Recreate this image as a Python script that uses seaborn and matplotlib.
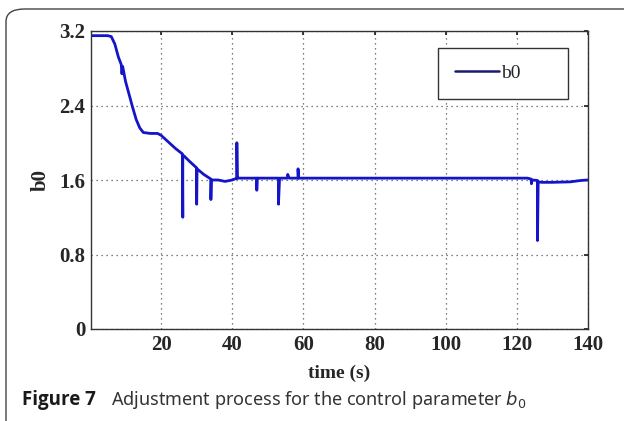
import numpy as np
import pandas as pd
import seaborn as sns
import matplotlib.pyplot as plt
from matplotlib.patches import FancyBboxPatch
from matplotlib.lines import Line2D

# ---- data ----
time_s = [0.3, 5.0, 6.0, 7.0, 8.0, 8.8, 9.0, 9.2, 10.0, 11.0, 12.0, 13.0, 14.0, 15.0,
          17.0, 19.0, 20.0, 22.0, 24.0, 26.0, 26.1, 26.1, 26.4, 26.4, 28.0,
          30.0, 30.0, 30.1, 32.0, 34.0, 34.0, 34.1, 36.0, 38.0, 40.0,
          41.3, 41.3, 41.4, 46.9, 46.9, 47.0, 53.0, 53.0, 53.3, 55.5, 55.6, 56.0,
          58.5, 58.5, 58.6, 80.0, 100.0, 123.0, 124.0, 124.1, 124.3, 125.8, 125.8, 126.0,
          127.0, 130.0, 135.0, 138.0, 140.0]
b0 = [3.15, 3.15, 3.14, 3.06, 2.92, 2.84, 2.74, 2.82, 2.66, 2.52, 2.38, 2.25, 2.16, 2.11,
      2.10, 2.10, 2.08, 2.01, 1.94, 1.88, 1.20, 1.86, 1.86, 1.86, 1.80,
      1.73, 1.34, 1.72, 1.66, 1.61, 1.39, 1.60, 1.60, 1.585, 1.60,
      1.62, 2.00, 1.62, 1.62, 1.49, 1.62, 1.62, 1.34, 1.62, 1.62, 1.66, 1.62,
      1.62, 1.72, 1.62, 1.62, 1.62, 1.62, 1.61, 1.56, 1.60, 1.595, 0.95, 1.58,
      1.575, 1.575, 1.58, 1.595, 1.60]
series_name = "b0"
x_ticks = [20, 40, 60, 80, 100, 120, 140]
y_ticks = [0, 0.8, 1.6, 2.4, 3.2]
y_tick_labels = ["0", "0.8", "1.6", "2.4", "3.2"]

df = pd.DataFrame({"time": time_s, "b0": b0})

sns.set_theme(style="white")
plt.rcParams['font.family'] = ['Liberation Serif', 'DejaVu Serif']

fig = plt.figure(figsize=(6.24, 4.21), dpi=100)
L, R, T, B = 91, 588, 31, 329
ax = fig.add_axes([L/624, 1 - B/421, (R-L)/624, (B-T)/421])

sns.lineplot(data=df, x="time", y="b0", ax=ax, sort=False, estimator=None,
             color="#1414c8", linewidth=2.0, legend=False)

ax.set_xlim(0.3, 140)
ax.set_ylim(0, 3.2)
ax.set_xticks(x_ticks)
ax.set_yticks(y_ticks)
ax.set_yticklabels(y_tick_labels)
ax.tick_params(axis='both', labelsize=15, length=3, direction='in', color='#222222',
               top=True, right=True, pad=4)
for lab in ax.get_xticklabels() + ax.get_yticklabels():
    lab.set_fontweight('bold')
ax.grid(True, linestyle=(0, (1, 3)), color='#555555', linewidth=0.9)
for s in ax.spines.values():
    s.set_color('#333333')
    s.set_linewidth(1.0)
ax.set_xlabel("time (s)", fontsize=14, fontweight='bold', labelpad=7)
ax.set_ylabel("b0", fontsize=15, fontweight='bold', labelpad=6)

# legend
W, H = R - L, B - T
x0 = (438 - L) / W
x1 = (568 - L) / W
y1 = (B - 48) / H
y0 = (B - 99) / H
h = [Line2D([0], [0], color="#1a1a6e", linewidth=1.8)]
leg = ax.legend(h, [series_name], loc='upper left', mode='expand',
                bbox_to_anchor=(x0, y0, x1 - x0, y1 - y0),
                frameon=True, fancybox=False, edgecolor='#333333', prop={'size': 14},
                handlelength=2.3, handletextpad=0.1, borderpad=0.85, borderaxespad=0)
leg.get_frame().set_linewidth(1.0)
leg.get_frame().set_alpha(1)

# caption
fig.text(22/624, 1 - 400/421, "Figure 7", fontsize=13.5, fontweight='bold',
         family=['Open Sans', 'DejaVu Sans'], va='center', ha='left', color='#1a1a1a')
fig.text(111/624, 1 - 400/421, "Adjustment process for the control parameter $b_0$",
         fontsize=13, family=['Noto Sans', 'DejaVu Sans'], va='center', ha='left',
         color='#333333')

# rounded border
border = FancyBboxPatch((6/624, -0.05), 1.1, 1 - 9/421 + 0.05,
                        boxstyle="round,pad=0,rounding_size=0.03",
                        transform=fig.transFigure, fill=False,
                        edgecolor='#444444', linewidth=1.0, clip_on=False)
fig.patches.append(border)

fig.savefig("out.png", dpi=100)
